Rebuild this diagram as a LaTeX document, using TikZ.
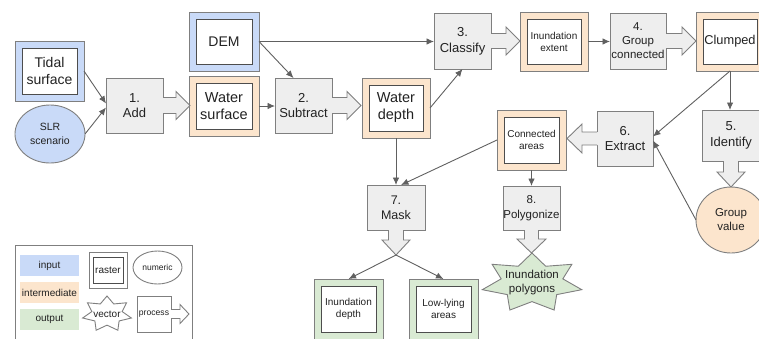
\documentclass[tikz,border=0pt]{standalone}
\usepackage{fontspec}
\setmainfont{Liberation Sans}
\usetikzlibrary{shapes.geometric,arrows.meta,calc}
\definecolor{cin}{HTML}{C9DAF8}
\definecolor{cmid}{HTML}{FCE5CD}
\definecolor{cout}{HTML}{D9EAD3}
\definecolor{cproc}{HTML}{EEEEEE}
\definecolor{cbord}{HTML}{7F7F7F}
\definecolor{cinner}{HTML}{4D4D4D}
\definecolor{cline}{HTML}{606060}
\definecolor{ctext}{HTML}{222222}
\newcommand\fs[2]{\fontsize{#1}{#2}\selectfont}
\tikzset{
  rasterout/.style={draw=cbord, line width=0.9pt, inner sep=0pt, outer sep=0pt},
  rasterin/.style={draw=cinner, fill=white, line width=0.9pt, inner sep=0pt, outer sep=0pt, align=center, text=ctext},
  procbox/.style={draw=cbord, fill=cproc, line width=0.9pt, inner sep=0pt, outer sep=0pt, align=center, text=ctext},
  datacirc/.style={ellipse, draw=cbord, line width=0.9pt, inner sep=0pt, outer sep=0pt, align=center, text=ctext},
  legcol/.style={inner sep=0pt, outer sep=0pt, minimum width=59pt, minimum height=21pt, text=ctext, font=\fs{10}{12}},
  conn/.style={draw=cline, line width=0.9pt, -{Latex[length=7.5pt,width=6.5pt]}},
  pline/.style={draw=cbord, line width=0.9pt, line join=miter},
  txt/.style={text=ctext, align=center, inner sep=0pt},
}
% raster: name, x, y, w, h, fill, font, text
\newcommand\raster[8]{%
  \node[rasterout, fill=#6, minimum width=#4pt, minimum height=#5pt] (#1) at (#2,#3) {};
  \node[rasterin, minimum width={#4pt-14pt}, minimum height={#5pt-14pt}, font=#7] (#1-in) at (#2,#3) {#8};}
% process arrows: [fill] node, shaft half width, shaft length, head half width, head length
\newcommand\parR[6][cproc]{%
  \fill[#1] ($(#2.east)+(-0.8,-#3)$) -- ++({#4+0.8},0) -- ++(0,{#3-#5}) -- ++(#6,#5) -- ++(-#6,#5) -- ++(0,{#3-#5}) -- ++({-#4-0.8},0) -- cycle;
  \draw[pline] ($(#2.east)+(0,-#3)$) -- ++(#4,0) -- ++(0,{#3-#5}) -- ++(#6,#5) -- ++(-#6,#5) -- ++(0,{#3-#5}) -- ++(-#4,0);}
\newcommand\parL[6][cproc]{%
  \fill[#1] ($(#2.west)+(0.8,-#3)$) -- ++({-#4-0.8},0) -- ++(0,{#3-#5}) -- ++(-#6,#5) -- ++(#6,#5) -- ++(0,{#3-#5}) -- ++({#4+0.8},0) -- cycle;
  \draw[pline] ($(#2.west)+(0,-#3)$) -- ++(-#4,0) -- ++(0,{#3-#5}) -- ++(-#6,#5) -- ++(#6,#5) -- ++(0,{#3-#5}) -- ++(#4,0);}
\newcommand\parD[6][cproc]{%
  \fill[#1] ($(#2.south)+(-#3,-0.8)$) -- ++(0,{#4+0.8}) -- ++({#3-#5},0) -- ++(#5,#6) -- ++(#5,-#6) -- ++({#3-#5},0) -- ++(0,{-#4-0.8}) -- cycle;
  \draw[pline] ($(#2.south)+(-#3,0)$) -- ++(0,#4) -- ++({#3-#5},0) -- ++(#5,#6) -- ++(#5,-#6) -- ++({#3-#5},0) -- ++(0,-#4);}
% star: cx, cy, rx, ry, fill
\newcommand\starpath[5]{%
  \draw[draw=cbord, line width=0.9pt, fill=#5, line join=miter] plot[samples at={0,1,...,13}, variable=\k]
   ({#1+#3*(1-0.38*mod(\k,2))*cos(90+\k*180/7)}, {#2-#4*(1-0.38*mod(\k,2))*sin(90+\k*180/7)}) -- cycle;}

\begin{document}
\begin{tikzpicture}[x=1pt,y=-1pt]
\useasboundingbox (0,0) rectangle (759,338);

% data (raster) boxes
\raster{tidal}{49.5}{71}{69}{60}{cin}{\fs{14}{17}}{Tidal\\surface}
\raster{dem}{224}{41.5}{70}{59}{cin}{\fs{14}{17}}{DEM}
\raster{wsurf}{224}{106}{70}{60}{cmid}{\fs{14.5}{17}}{Water\\surface}
\raster{wdepth}{396}{108}{68}{60}{cmid}{\fs{14.5}{17}}{Water\\depth}
\raster{inext}{554}{41.5}{68}{59}{cmid}{\fs{10}{12}}{Inundation\\extent}
\raster{clumped}{730}{41.5}{68}{59}{cmid}{\fs{12.8}{15}}{Clumped}
\raster{conn}{531.5}{140}{69}{60}{cmid}{\fs{10}{12}}{Connected\\areas}
\raster{idepth}{348.5}{309}{69}{60}{cout}{\fs{10}{12}}{Inundation\\depth}
\raster{lowly}{443.5}{309}{69}{60}{cout}{\fs{10}{12}}{Low-lying\\areas}

% numeric
\node[datacirc, fill=cin, minimum width=70pt, minimum height=58pt, font=\fs{10.5}{14}] (slr) at (50,134) {SLR\\scenario};
\node[datacirc, fill=cmid, minimum width=70pt, minimum height=66pt, font=\fs{11.5}{14}] (gval) at (731,220) {Group\\value};

% vector
\starpath{532}{283}{51}{30}{cout}
\node[txt, font=\fs{11.5}{14}] (ipoly) at (532,283) {Inundation\\polygons};

% processes
\node[procbox, minimum width=57pt, minimum height=55pt, font=\fs{13}{15}] (add) at (134.5,105.5) {1.\\Add};
\node[procbox, minimum width=57pt, minimum height=55pt, font=\fs{13}{15}] (subtract) at (303.5,105.5) {2.\\Subtract};
\node[procbox, minimum width=57pt, minimum height=56pt, font=\fs{13}{16}] (classify) at (462.5,41) {3.\\Classify};
\node[procbox, minimum width=56pt, minimum height=56pt, font=\fs{11.5}{14}] (group) at (638,41) {4.\\Group\\connected};
\node[procbox, minimum width=58pt, minimum height=51pt, font=\fs{13}{15.5}] (identify) at (731,135.5) {5.\\Identify};
\node[procbox, minimum width=56pt, minimum height=55pt, font=\fs{13}{15.5}] (extract) at (625,138.5) {6.\\Extract};
\node[procbox, minimum width=58pt, minimum height=45pt, font=\fs{12.5}{15}] (mask) at (396,207.5) {7.\\Mask};
\node[procbox, minimum width=57pt, minimum height=44pt, font=\fs{11.5}{15}] (poly) at (531.5,208) {8.\\Polygonize};

% process output arrows
\parR{add}{8}{13}{14}{14}
\parR{subtract}{8}{15}{14}{14}
\parR{classify}{7.5}{15}{14}{14}
\parR{group}{7.5}{16}{14}{14}
\parL{extract}{6.5}{15}{14.5}{15}
\parD{identify}{7.5}{11}{14}{15}
\parD{mask}{7.5}{10}{14}{15}
\parD{poly}{7}{9}{14.5}{14}
\coordinate (mtip) at ($(mask.south)+(0,25)$);

% connectors
\draw[conn] (tidal.east) -- ([yshift=2pt]add.west);
\draw[conn] (slr.east) -- ([yshift=-2pt]add.west);
\draw[conn] (wsurf.east) -- (wsurf.east -| subtract.west);
\draw[conn] (dem.east) -- ([xshift=-10pt]subtract.north);
\draw[conn] (dem.east) -- (dem.east -| classify.west);
\draw[conn] (wdepth.east) -- (classify.south);
\draw[conn] (wdepth.south) -- (mask.north);
\draw[conn] (inext.east) -- (inext.east -| group.west);
\draw[conn] (clumped.south) -- (clumped.south |- identify.north);
\draw[conn] (clumped.south) -- ([yshift=2pt]extract.east);
\draw[conn] (gval.west) -- ([yshift=-2pt]extract.east);
\draw[conn] (conn.west) -- ([xshift=5pt]mask.north);
\draw[conn] (conn.south) -- (poly.north);
\draw[conn] (mtip) -- (idepth.north);
\draw[conn] (mtip) -- (lowly.north);

% legend
\node[draw=cbord, line width=0.9pt, minimum width=177pt, minimum height=95pt, inner sep=0pt, outer sep=0pt] (legend) at (103.5,292.5) {};
\node[legcol, fill=cin] (lin) at (49.5,265.5) {input};
\node[legcol, fill=cmid] (lmid) at (49.5,292.5) {intermediate};
\node[legcol, fill=cout] (lout) at (49.5,319.5) {output};
\node[rasterout, fill=white, minimum width=38pt, minimum height=36pt] (lrast) at (108,270) {};
\node[rasterin, minimum width=30pt, minimum height=26pt, font=\fs{10}{12}] (lrast-in) at (108,270) {raster};
\node[datacirc, fill=white, minimum width=49pt, minimum height=33pt, font=\fs{8.5}{10}] (lnum) at (157.5,267.5) {numeric};
\starpath{107}{314}{25}{18}{white}
\node[txt, font=\fs{10}{12}] (lvec) at (107,314) {vector};
\node[procbox, fill=white, minimum width=34pt, minimum height=36pt, font=\fs{8.6}{10}] (lproc) at (154,314) {process};
\parR[white]{lproc}{4.5}{9}{9.5}{9}
\end{tikzpicture}
\end{document}
